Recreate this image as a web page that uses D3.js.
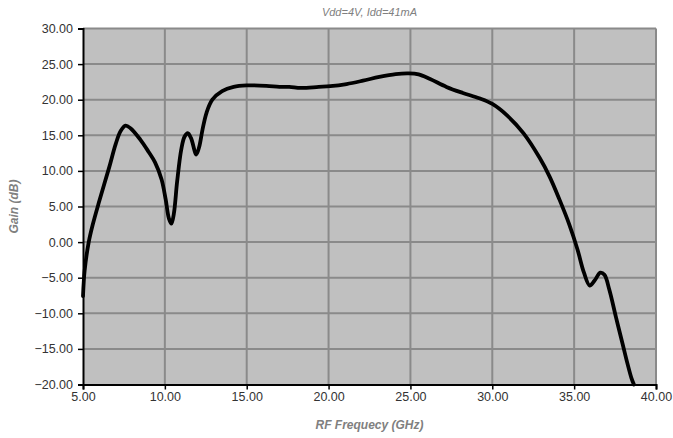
<!DOCTYPE html>
<html><head><meta charset="utf-8">
<script src="https://cdn.jsdelivr.net/npm/d3@7"></script>
<style>body{margin:0;background:#fff;}svg{display:block;font-family:"Liberation Sans",Arial,sans-serif;}</style>
</head><body><svg id="c" width="673" height="438"></svg>
<script>
const title = "Vdd=4V, Idd=41mA";
const xTitle = "RF Frequecy (GHz)";
const yTitle = "Gain (dB)";
const xTicks = [5,10,15,20,25,30,35,40];
const yTicks = [-20,-15,-10,-5,0,5,10,15,20,25,30];
const freq = [5.0,5.1,5.35,5.6,6.0,6.6,7.0,7.3,7.6,7.9,8.5,9.0,9.4,9.8,10.05,10.25,10.4,10.55,10.75,11.0,11.2,11.4,11.6,11.92,12.1,12.3,12.55,12.9,13.5,14.2,15.0,16.2,17.0,17.6,18.3,19.4,20.1,21.1,22.1,23.1,24.1,24.9,25.5,26.2,27.2,28.2,29.2,30.0,30.9,31.9,32.9,33.5,34.1,34.7,35.2,35.6,35.95,36.25,36.6,36.85,37.15,37.55,37.95,38.25,38.5,38.65];
const gain = [-7.6,-4.0,0,2.5,5.8,10.5,13.8,15.6,16.35,16.0,14.4,12.7,11.2,8.8,6.0,3.3,2.6,4.0,8.5,13.0,14.8,15.3,14.6,12.3,13.4,15.8,18.2,20.0,21.2,21.8,22.0,21.95,21.8,21.8,21.65,21.8,21.9,22.2,22.67,23.2,23.6,23.7,23.55,22.9,21.8,20.95,20.2,19.4,17.8,15.3,11.8,9.2,6.0,2.5,-1.0,-4.3,-6.1,-5.4,-4.3,-4.6,-6.7,-10.5,-14.2,-17.0,-19.1,-20.0];

const svg = d3.select("#c");
const L=83, R=656, T=28.5, B=384.5;
const x = d3.scaleLinear().domain([5,40]).range([L,R]);
const y = d3.scaleLinear().domain([-20,30]).range([B,T]);

svg.append("rect").attr("x",L).attr("y",T).attr("width",R-L).attr("height",B-T).attr("fill","#c0c0c0");

const grid = svg.append("g").attr("stroke","#8a8a8a").attr("stroke-width",2);
grid.selectAll("line.v").data(xTicks.slice(1)).join("line")
  .attr("x1",d=>x(d)).attr("x2",d=>x(d)).attr("y1",T).attr("y2",B);
grid.selectAll("line.h").data(yTicks.slice(1)).join("line")
  .attr("x1",L).attr("x2",R).attr("y1",d=>y(d)).attr("y2",d=>y(d));

const xAxis = d3.axisBottom(x).tickValues(xTicks).tickFormat(d3.format(".2f")).tickSize(5).tickPadding(3);
const yAxis = d3.axisLeft(y).tickValues(yTicks).tickFormat(d3.format(".2f")).tickSize(5).tickPadding(5);
const gx = svg.append("g").attr("transform",`translate(0,${B})`).call(xAxis);
const gy = svg.append("g").attr("transform",`translate(${L},0)`).call(yAxis);
[gx,gy].forEach(g=>{
  g.select(".domain").attr("stroke","#000").attr("stroke-width",2);
  g.selectAll(".tick line").attr("stroke","#000").attr("stroke-width",1.5);
  g.selectAll(".tick text").attr("fill","#333").attr("font-size",12.5).attr("font-family","Liberation Sans, Arial, sans-serif");
});

const line = d3.line().x((d,i)=>x(freq[i])).y(d=>y(d)).curve(d3.curveCatmullRom.alpha(0.5));
svg.append("path").attr("d",line(gain)).attr("fill","none").attr("stroke","#000").attr("stroke-width",3.8).attr("stroke-linejoin","round").attr("stroke-linecap","round");

svg.append("text").attr("x",(L+R)/2).attr("y",16).attr("text-anchor","middle")
  .attr("font-size",11).attr("font-style","italic").attr("fill","#808080").text(title);
svg.append("text").attr("x",(L+R)/2).attr("y",429).attr("text-anchor","middle")
  .attr("font-size",12).attr("font-style","italic").attr("font-weight","bold").attr("fill","#808080").text(xTitle);
svg.append("text").attr("transform",`translate(18,${(T+B)/2}) rotate(-90)`).attr("text-anchor","middle")
  .attr("font-size",12).attr("font-style","italic").attr("font-weight","bold").attr("fill","#808080").text(yTitle);
</script></body></html>
